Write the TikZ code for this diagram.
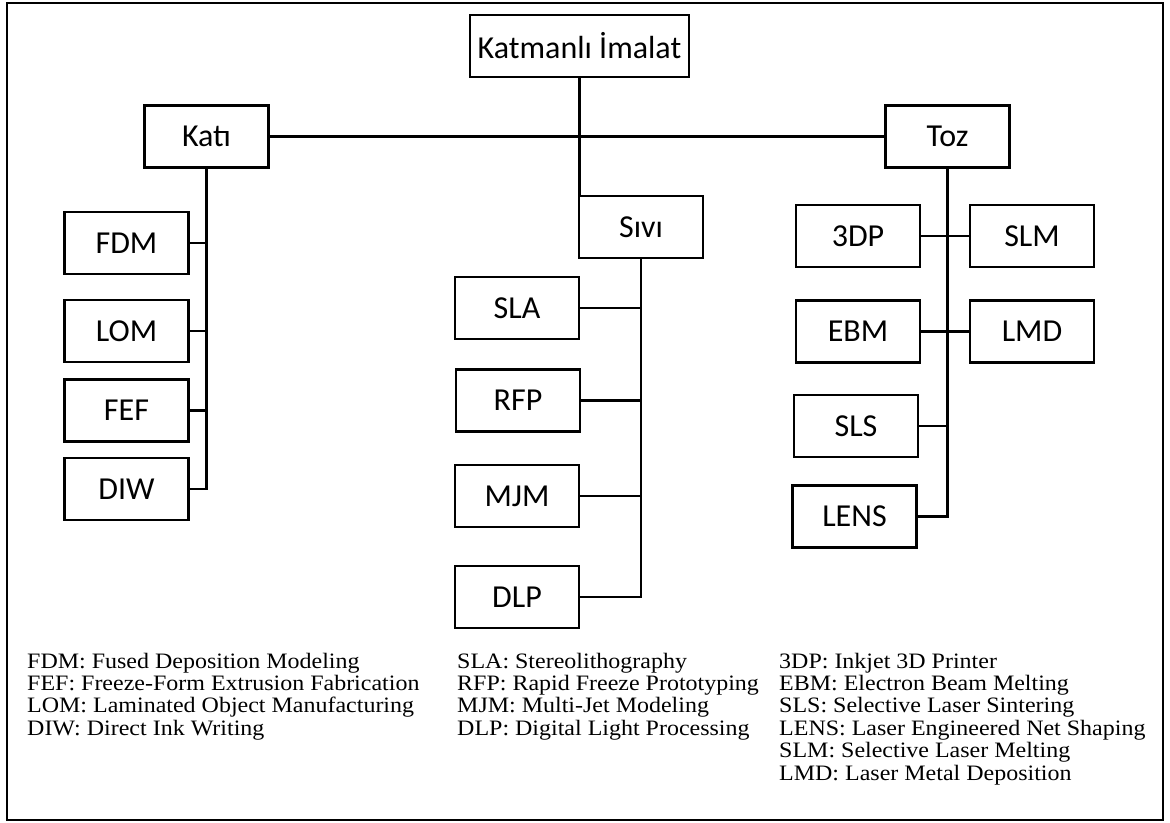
\documentclass[tikz,border=0pt]{standalone}
\usepackage{fontspec}
\setmainfont{Carlito}
\newfontfamily\notefont[FakeStretch=1.09]{Liberation Serif}
\begin{document}
\begin{tikzpicture}[x=1pt,y=-1pt,
  box/.style={draw, line width=2.4pt, rectangle, inner sep=0pt,
    minimum width=124pt, minimum height=62pt,
    font=\fontsize{32}{32}\selectfont},
  conn/.style={line width=2.4pt},
  note/.style={anchor=base west, inner sep=0pt,
    font=\notefont\fontsize{22}{22}\selectfont}]
\useasboundingbox (0,0) rectangle (1170,822);
\draw[line width=2pt] (6.5,3) rectangle (1163,819.5);

\node[box, minimum width=219pt] (top) at (579.5,46) {Katmanlı İmalat};
\node[box] (kati) at (206.5,136.5) {Katı};
\node[box] (toz) at (947.5,136.5) {Toz};
\node[box] (sivi) at (641,227) {Sıvı};

\node[box] (fdm) at (126.5,243) {FDM};
\node[box] (lom) at (126.5,331) {LOM};
\node[box] (fef) at (126.5,410.5) {FEF};
\node[box] (diw) at (126.5,489) {DIW};

\node[box] (sla) at (517,308) {SLA};
\node[box] (rfp) at (518,400.5) {RFP};
\node[box] (mjm) at (517,496) {MJM};
\node[box] (dlp) at (517,597) {DLP};

\node[box] (tdp) at (858,236) {3DP};
\node[box] (slm) at (1032,236) {SLM};
\node[box] (ebm) at (858,331.5) {EBM};
\node[box] (lmd) at (1032,331.5) {LMD};
\node[box] (sls) at (856,426) {SLS};
\node[box] (lens) at (854.5,516.5) {LENS};

% main connectors
\draw[conn] (top.south) -- (top.south |- sivi.north);
\draw[conn] (kati.east) -- (toz.west);

% Kati branch
\draw[conn] (kati.south) -- (kati.south |- diw.east) -- (diw.east);
\foreach \n in {fdm,lom,fef}
  \draw[conn] (\n.east) -- (\n.east -| kati.south);

% Sivi branch
\draw[conn] (sivi.south) -- (sivi.south |- dlp.east) -- (dlp.east);
\foreach \n in {sla,rfp,mjm}
  \draw[conn] (\n.east) -- (\n.east -| sivi.south);

% Toz branch
\draw[conn] (toz.south) -- (toz.south |- lens.east) -- (lens.east);
\draw[conn] (tdp.east) -- (slm.west);
\draw[conn] (ebm.east) -- (lmd.west);
\draw[conn] (sls.east) -- (sls.east -| toz.south);

% notes
\node[note] (n1) at (27,668) {FDM: Fused Deposition Modeling};
\node[note] (n2) at (27,690.4) {FEF: Freeze-Form Extrusion Fabrication};
\node[note] (n3) at (27,712.8) {LOM: Laminated Object Manufacturing};
\node[note] (n4) at (27,735.2) {DIW: Direct Ink Writing};

\node[note] (m1) at (457,668) {SLA: Stereolithography};
\node[note] (m2) at (457,690.4) {RFP: Rapid Freeze Prototyping};
\node[note] (m3) at (457,712.8) {MJM: Multi-Jet Modeling};
\node[note] (m4) at (457,735.2) {DLP: Digital Light Processing};

\node[note] (r1) at (779,668) {3DP: Inkjet 3D Printer};
\node[note] (r2) at (779,690.4) {EBM: Electron Beam Melting};
\node[note] (r3) at (779,712.8) {SLS: Selective Laser Sintering};
\node[note] (r4) at (779,735.2) {LENS: Laser Engineered Net Shaping};
\node[note] (r5) at (779,757.6) {SLM: Selective Laser Melting};
\node[note] (r6) at (779,780) {LMD: Laser Metal Deposition};
\end{tikzpicture}
\end{document}
